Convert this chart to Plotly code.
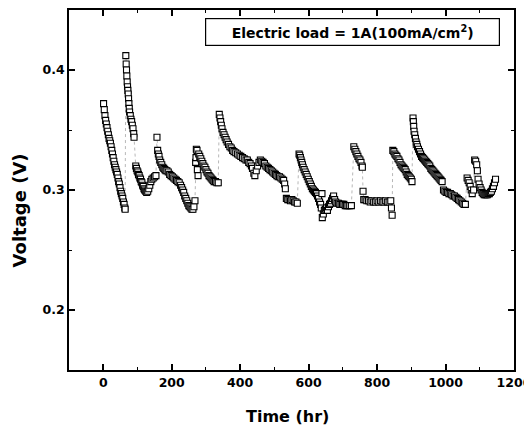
import plotly.graph_objects as go

# ---- data (time in hr, voltage in V) ----
seg1_t = [1, 3, 5, 7, 9, 11, 13, 15, 17, 19, 21, 23, 25, 27, 29, 31, 33, 35, 37, 39, 41, 43, 45, 47, 49, 51, 53, 55, 57, 59, 61, 63, 64]
seg1_v = [0.372, 0.367, 0.362, 0.358, 0.355, 0.352, 0.349, 0.346, 0.343, 0.341, 0.339, 0.336, 0.333, 0.330, 0.327, 0.324, 0.321, 0.319, 0.317, 0.315, 0.313, 0.310, 0.307, 0.305, 0.302, 0.299, 0.297, 0.295, 0.293, 0.290, 0.288, 0.285, 0.284]

seg2_t = [66, 67, 68, 69, 70, 71, 72, 73, 74, 75, 76, 77, 79, 81, 83, 85, 87, 89, 90]
seg2_v = [0.412, 0.405, 0.400, 0.395, 0.390, 0.386, 0.383, 0.380, 0.376, 0.372, 0.368, 0.365, 0.362, 0.359, 0.357, 0.354, 0.351, 0.347, 0.344]

seg3_t = [95, 97, 99, 101, 103, 105, 107, 109, 111, 113, 115, 117, 119, 121, 124, 127, 130, 133, 136, 139, 142, 146, 150, 154]
seg3_v = [0.320, 0.318, 0.316, 0.315, 0.313, 0.312, 0.310, 0.309, 0.307, 0.306, 0.304, 0.303, 0.301, 0.300, 0.299, 0.298, 0.299, 0.301, 0.304, 0.307, 0.309, 0.310, 0.311, 0.312]

seg4_t = [157, 159, 161, 163, 165, 168, 171, 174, 177, 180, 183, 186, 190, 194, 198, 202, 206, 210, 214, 218, 222, 226, 229, 232, 235, 238, 241, 244, 247, 250, 253, 256, 259, 262, 265, 268]
seg4_v = [0.344, 0.333, 0.330, 0.328, 0.325, 0.323, 0.321, 0.319, 0.318, 0.317, 0.316, 0.316, 0.315, 0.313, 0.312, 0.311, 0.310, 0.309, 0.308, 0.307, 0.306, 0.304, 0.302, 0.300, 0.298, 0.295, 0.293, 0.291, 0.289, 0.287, 0.286, 0.285, 0.284, 0.284, 0.286, 0.291]

seg5_t = [270, 271, 272, 274, 275, 277, 279, 282, 285, 288, 291, 294, 297, 300, 303, 306, 309, 312, 315, 318, 321, 324, 328, 332, 336]
seg5_v = [0.323, 0.327, 0.334, 0.333, 0.317, 0.312, 0.330, 0.328, 0.326, 0.324, 0.322, 0.320, 0.319, 0.317, 0.315, 0.314, 0.312, 0.311, 0.310, 0.309, 0.308, 0.307, 0.307, 0.306, 0.306]

seg6_t = [339, 341, 343, 345, 347, 350, 353, 356, 359, 362, 366, 370, 374, 378, 382, 387, 392, 397, 402, 407, 412, 417, 421, 425, 429, 433, 436, 440, 443, 447, 451, 455, 459, 463, 467, 471, 475, 479, 483, 487, 491, 495, 499, 503, 507, 511, 515, 519, 523, 527, 530, 532]
seg6_v = [0.363, 0.360, 0.357, 0.354, 0.351, 0.348, 0.346, 0.344, 0.342, 0.340, 0.338, 0.336, 0.335, 0.333, 0.332, 0.331, 0.330, 0.329, 0.328, 0.327, 0.326, 0.325, 0.325, 0.323, 0.322, 0.320, 0.318, 0.314, 0.312, 0.316, 0.320, 0.323, 0.325, 0.324, 0.323, 0.322, 0.320, 0.319, 0.318, 0.317, 0.316, 0.315, 0.314, 0.313, 0.312, 0.311, 0.311, 0.310, 0.309, 0.308, 0.305, 0.301]

seg7_t = [535, 539, 543, 547, 551, 555, 559, 563, 567]
seg7_v = [0.293, 0.292, 0.292, 0.291, 0.292, 0.291, 0.290, 0.290, 0.289]

seg8_t = [572, 574, 576, 578, 580, 582, 584, 587, 590, 593, 596, 599, 602, 605, 608, 611, 614, 617, 620, 623, 626, 629, 632, 635, 637, 639, 640, 643, 646, 649, 652, 655, 658, 661, 664, 667, 670, 673, 676, 679, 683, 687, 691, 695, 699, 703, 707, 711, 715, 720, 725]
seg8_v = [0.330, 0.329, 0.327, 0.325, 0.323, 0.321, 0.319, 0.317, 0.315, 0.313, 0.311, 0.309, 0.307, 0.305, 0.303, 0.301, 0.300, 0.299, 0.298, 0.297, 0.295, 0.293, 0.290, 0.288, 0.285, 0.297, 0.277, 0.280, 0.283, 0.284, 0.285, 0.283, 0.286, 0.288, 0.289, 0.291, 0.293, 0.295, 0.292, 0.290, 0.289, 0.289, 0.288, 0.288, 0.288, 0.288, 0.287, 0.287, 0.287, 0.287, 0.287]

seg9_t = [732, 735, 738, 741, 744, 747, 750, 753, 756, 757]
seg9_v = [0.336, 0.334, 0.332, 0.330, 0.328, 0.326, 0.325, 0.323, 0.320, 0.319]

seg10_t = [759, 761, 765, 770, 775, 780, 785, 790, 795, 800, 805, 810, 815, 820, 825, 830, 835, 840, 842, 844]
seg10_v = [0.299, 0.292, 0.292, 0.291, 0.291, 0.290, 0.291, 0.290, 0.290, 0.291, 0.290, 0.291, 0.290, 0.290, 0.291, 0.290, 0.290, 0.291, 0.285, 0.279]

seg11_t = [846, 849, 852, 855, 858, 861, 864, 867, 870, 873, 876, 879, 882, 885, 888, 891, 894, 897, 900, 902]
seg11_v = [0.333, 0.332, 0.330, 0.329, 0.328, 0.326, 0.325, 0.323, 0.321, 0.320, 0.319, 0.318, 0.317, 0.315, 0.313, 0.312, 0.311, 0.310, 0.309, 0.307]

seg12_t = [905, 906, 907, 908, 910, 912, 914, 916, 918, 921, 924, 927, 930, 933, 936, 939, 942, 945, 948, 951, 954, 957, 960, 963, 966, 969, 972, 975, 978, 981, 984, 987, 990]
seg12_v = [0.360, 0.357, 0.353, 0.349, 0.346, 0.343, 0.340, 0.338, 0.336, 0.334, 0.332, 0.330, 0.328, 0.327, 0.326, 0.325, 0.324, 0.323, 0.322, 0.321, 0.320, 0.318, 0.317, 0.316, 0.315, 0.314, 0.313, 0.312, 0.311, 0.310, 0.309, 0.308, 0.307]

seg13_t = [994, 998, 1002, 1006, 1010, 1014, 1018, 1022, 1026, 1030, 1034, 1038, 1042, 1046, 1050, 1054, 1058]
seg13_v = [0.300, 0.299, 0.298, 0.298, 0.297, 0.297, 0.296, 0.295, 0.295, 0.294, 0.293, 0.292, 0.291, 0.290, 0.289, 0.288, 0.288]

seg14_t = [1063, 1066, 1069, 1072, 1075, 1078, 1082, 1085, 1088, 1091, 1093, 1095, 1098, 1101, 1104, 1107, 1110, 1113, 1116, 1119, 1122, 1125, 1128, 1131, 1134, 1137, 1140, 1143, 1146]
seg14_v = [0.310, 0.308, 0.306, 0.303, 0.300, 0.297, 0.300, 0.325, 0.324, 0.321, 0.316, 0.309, 0.305, 0.302, 0.300, 0.298, 0.297, 0.296, 0.296, 0.296, 0.296, 0.297, 0.297, 0.298, 0.299, 0.301, 0.303, 0.306, 0.309]

x_ticks = [0, 200, 400, 600, 800, 1000, 1200]
y_ticks = [0.2, 0.3, 0.4]
x_title = "Time (hr)"
y_title = "Voltage (V)"
legend_text = "Electric load = 1A(100mA/cm<sup>2</sup>)"

time = (seg1_t + seg2_t + seg3_t + seg4_t + seg5_t + seg6_t + seg7_t + seg8_t
        + seg9_t + seg10_t + seg11_t + seg12_t + seg13_t + seg14_t)
volt = (seg1_v + seg2_v + seg3_v + seg4_v + seg5_v + seg6_v + seg7_v + seg8_v
        + seg9_v + seg10_v + seg11_v + seg12_v + seg13_v + seg14_v)

FONT = "DejaVu Sans"

fig = go.Figure()
fig.add_trace(go.Scatter(
    x=time, y=volt, mode="lines+markers",
    line=dict(color="#9a9a9a", width=0.7, dash="dot"),
    marker=dict(symbol="square", size=6, color="white",
                line=dict(color="black", width=1.1)),
    showlegend=False,
))

axis_common = dict(
    showline=True, linecolor="black", linewidth=1.5, mirror="ticks",
    ticks="inside", ticklen=6, tickwidth=1.5, tickcolor="black",
    showgrid=False, zeroline=False,
    tickfont=dict(family=FONT, size=12.5, color="black", weight="bold"),
)

fig.update_xaxes(range=[-100, 1200], tickvals=x_ticks,
                 minor=dict(ticks="inside", ticklen=3, dtick=100, tick0=0,
                            tickcolor="black", tickwidth=1.2),
                 **axis_common)
fig.update_yaxes(range=[0.15, 0.45], tickvals=y_ticks, tickformat=".1f",
                 minor=dict(ticks="inside", ticklen=3, dtick=0.05, tick0=0.15,
                            tickcolor="black", tickwidth=1.2),
                 **axis_common)

# page has an 8px body margin; plot area target (page px): left 69, right 514, top 8, bottom 370
PH = 362.0
fig.add_annotation(text=x_title, xref="paper", yref="paper", x=(287.5 - 69) / 445, y=(370 - 417) / PH,
                   xanchor="center", yanchor="middle", showarrow=False,
                   font=dict(family=FONT, size=16, color="black", weight="bold"))
fig.add_annotation(text=y_title, xref="paper", yref="paper", x=(19.5 - 69) / 445, y=(370 - 210) / PH,
                   xanchor="center", yanchor="middle", showarrow=False, textangle=-90,
                   font=dict(family=FONT, size=18, color="black", weight="bold"))
fig.add_annotation(text=legend_text, xref="paper", yref="paper",
                   x=(352.5 - 69) / 445, y=(370 - 30.5) / PH,
                   xanchor="center", yanchor="middle", showarrow=False,
                   width=291, height=24, borderpad=1, borderwidth=1.2,
                   bordercolor="black", bgcolor="white",
                   font=dict(family=FONT, size=14, color="black", weight="bold"))

fig.update_layout(
    width=524, height=426,
    margin=dict(l=61, r=18, t=0, b=64),
    plot_bgcolor="white", paper_bgcolor="white",
)

fig.write_html("out.html")
